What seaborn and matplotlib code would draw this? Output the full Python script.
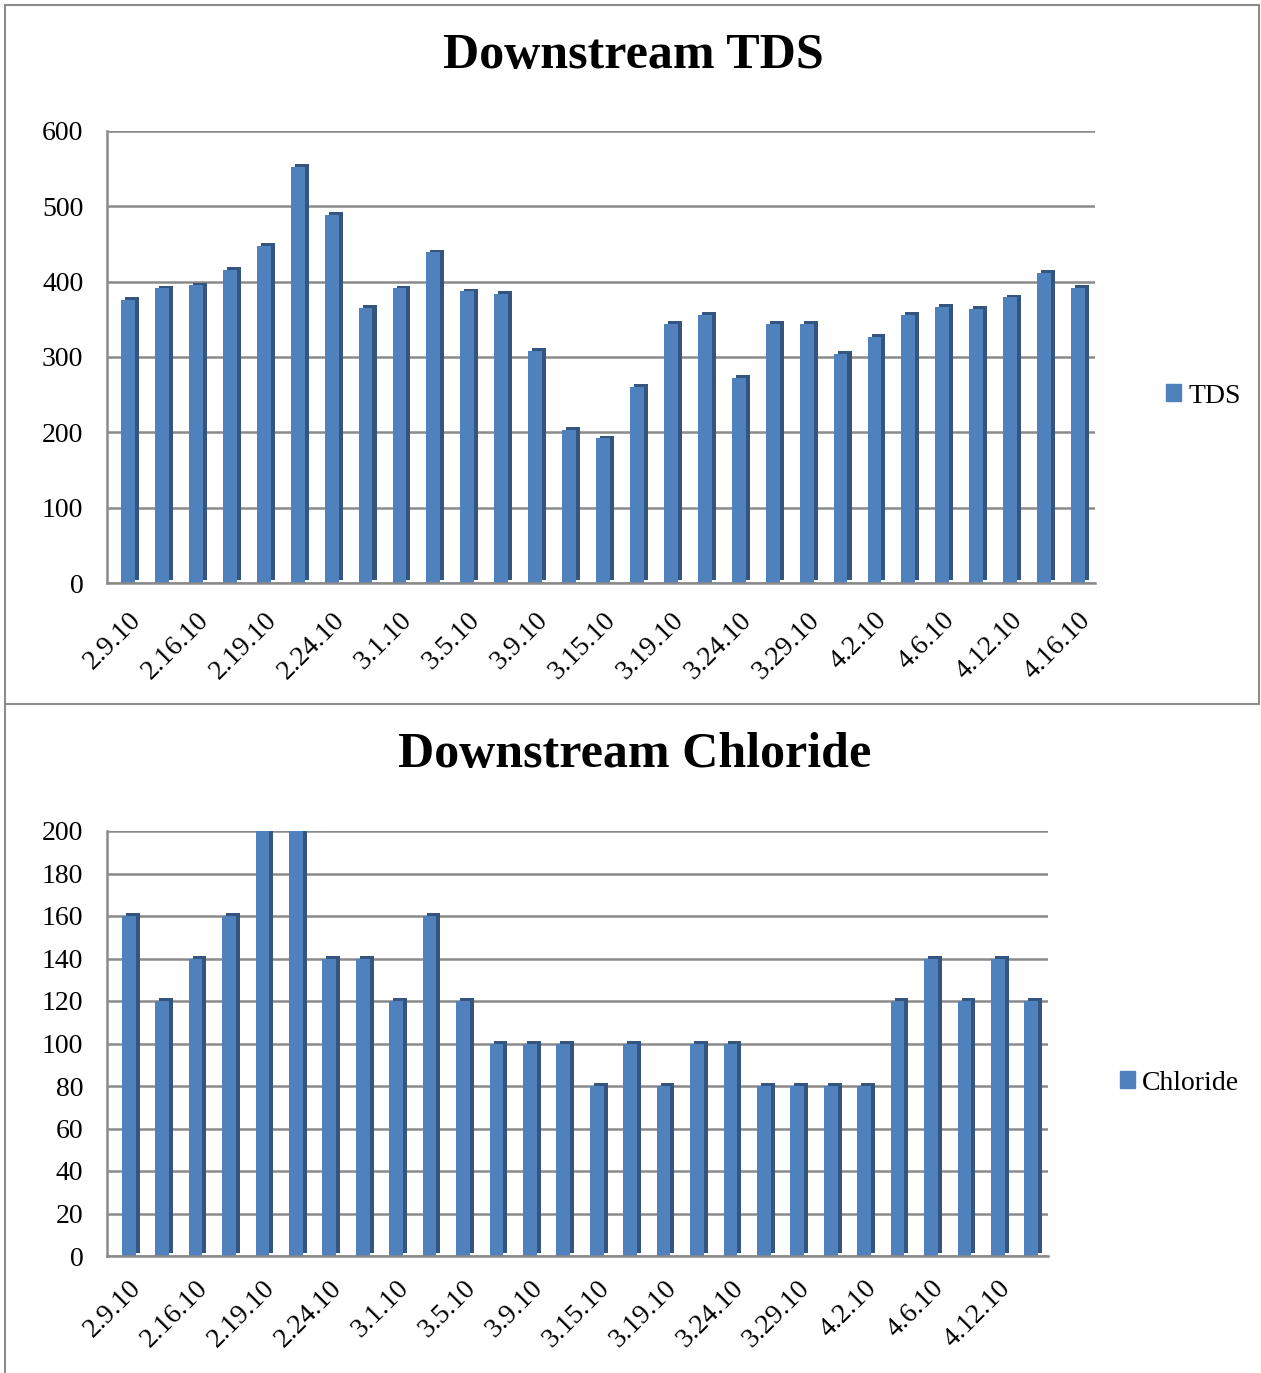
import matplotlib
matplotlib.use("Agg")
import matplotlib.pyplot as plt
import matplotlib.patheffects as pe
from matplotlib.patches import Patch, Rectangle
from matplotlib.lines import Line2D
from matplotlib.transforms import ScaledTranslation
import seaborn as sns

# data
tds = [376, 391, 395, 416, 448, 552, 489, 365, 391, 439, 387, 384, 308, 203, 192,
       260, 344, 356, 272, 344, 344, 304, 327, 356, 367, 364, 379, 412, 392]
tds_labels = ["2.9.10", "2.16.10", "2.19.10", "2.24.10", "3.1.10", "3.5.10", "3.9.10",
              "3.15.10", "3.19.10", "3.24.10", "3.29.10", "4.2.10", "4.6.10",
              "4.12.10", "4.16.10"]

chloride = [160, 120, 140, 160, 200, 200, 140, 140, 120, 160, 120, 100, 100, 100,
            80, 100, 80, 100, 100, 80, 80, 80, 80, 120, 140, 120, 140, 120]
chloride_labels = ["2.9.10", "2.16.10", "2.19.10", "2.24.10", "3.1.10", "3.5.10",
                   "3.9.10", "3.15.10", "3.19.10", "3.24.10", "3.29.10", "4.2.10",
                   "4.6.10", "4.12.10"]

BLUE = "#4F81BD"
SIDE = "#34557F"
GRID = "#8a8a8a"

sns.set_style("white")
plt.rcParams["font.family"] = ["Liberation Serif", "DejaVu Serif"]
plt.rcParams["text.color"] = "black"
plt.rcParams["xtick.labelcolor"] = "black"
plt.rcParams["ytick.labelcolor"] = "black"

W, H = 1261, 1373
fig = plt.figure(figsize=(W / 100, H / 100), dpi=100)


def px_axes(left, right, top, bottom):
    return fig.add_axes([left / W, 1 - bottom / H, (right - left) / W, (bottom - top) / H])


def draw_panel(ax, values, labels, ymax, ystep, xlim, label_pad):
    x = list(range(len(values)))
    sns.barplot(x=x, y=values, color=BLUE, saturation=1, width=0.41, linewidth=0,
                edgecolor="none", ax=ax)
    # fake excel 3d side/top faces
    for p in ax.patches:
        p.set_path_effects([pe.SimplePatchShadow(offset=(2.9, 2.0), shadow_rgbFace=SIDE,
                                                 alpha=1.0, rho=1.0), pe.Normal()])
    ax.set_ylim(0, ymax)
    ax.set_xlim(*xlim)
    ax.set_yticks(range(0, ymax + 1, ystep))
    ax.set_xticks(range(0, len(values), 2))
    ax.set_xticklabels(labels, rotation=45, ha="right", rotation_mode="anchor", fontsize=20)
    shift = ScaledTranslation(-10 / 100, 0, fig.dpi_scale_trans)
    for lab in ax.get_xticklabels():
        lab.set_transform(lab.get_transform() + shift)
    ax.set_xticks([i + 0.5 for i in range(-1, len(values))], minor=True)
    ax.tick_params(axis="x", which="major", length=0, pad=label_pad)
    ax.tick_params(axis="x", which="minor", length=5, width=1.5, color=GRID, direction="out")
    ax.tick_params(axis="y", length=5, width=1.5, color=GRID, direction="out", labelsize=20, pad=12)
    ax.yaxis.grid(True, color=GRID, lw=1.8)
    ax.set_axisbelow(True)
    for s in ["top", "right"]:
        ax.spines[s].set_visible(False)
    for s in ["left", "bottom"]:
        ax.spines[s].set_color(GRID)
        ax.spines[s].set_linewidth(1.8)
    ax.set_xlabel("")
    ax.set_ylabel("")


ax1 = px_axes(107, 1095, 131, 583)
draw_panel(ax1, tds, tds_labels, 600, 100, (-0.62, 28.5), 18)
fig.text(633 / W, 1 - 56 / H, "Downstream TDS", ha="center", va="center",
         fontsize=36, fontweight="bold")
fig.legend(handles=[Patch(color=BLUE, label="TDS")], loc="center left",
           bbox_to_anchor=(1166 / W, 1 - 396 / H), frameon=False, fontsize=20,
           borderpad=0, borderaxespad=0,
           handlelength=0.55, handleheight=0.55, handletextpad=0.25)

ax2 = px_axes(107, 1048, 831, 1256)
draw_panel(ax2, chloride, chloride_labels, 200, 20, (-0.65, 27.5), 14)
fig.text(635 / W, 1 - 755 / H, "Downstream Chloride", ha="center", va="center",
         fontsize=36, fontweight="bold")
fig.legend(handles=[Patch(color=BLUE, label="Chloride")], loc="center left",
           bbox_to_anchor=(1120 / W, 1 - 1083 / H), frameon=False, fontsize=20,
           borderpad=0, borderaxespad=0,
           handlelength=0.55, handleheight=0.55, handletextpad=0.25)

# panel frames
fig.patches.append(Rectangle((5 / W, 1 - 704 / H), 1254 / W, 699 / H, transform=fig.transFigure,
                             fill=False, edgecolor="#8c8c8c", lw=1.5))
fig.lines.append(Line2D([5 / W, 5 / W], [1 - 704 / H, 0], transform=fig.transFigure,
                        color="#8c8c8c", lw=1.5))

fig.savefig("out.png", dpi=100, facecolor="white")
